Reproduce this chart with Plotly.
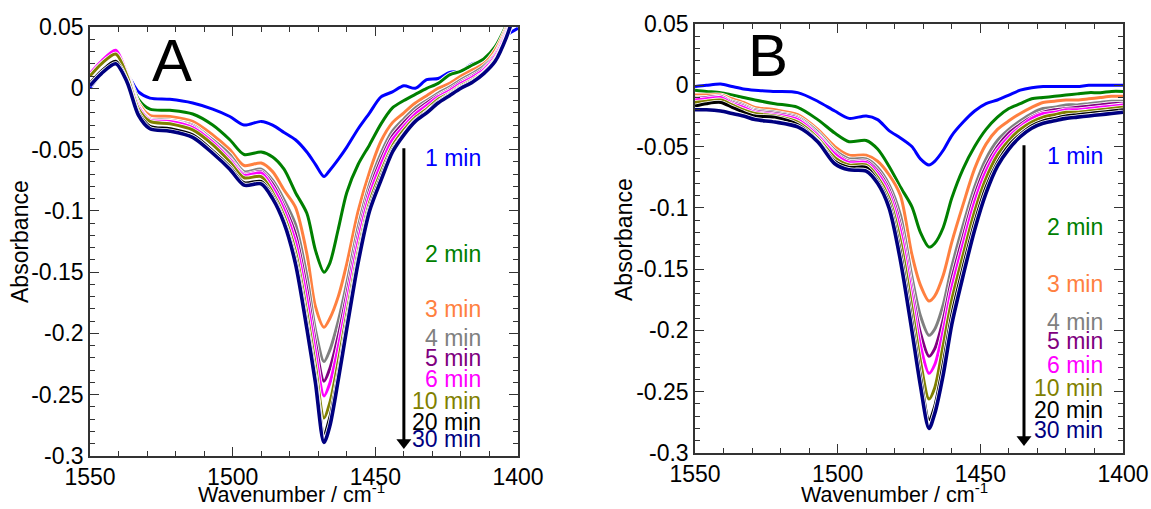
import plotly.graph_objects as go

# Wavenumbers (cm-1), shared by all spectra
W = [1550, 1546, 1541, 1537, 1533, 1529, 1522, 1514, 1507, 1501, 1496, 1490,
     1486, 1482, 1478, 1474, 1471, 1468, 1466, 1463, 1460, 1456, 1452, 1448,
     1444, 1440, 1436, 1432, 1428, 1424, 1420, 1416, 1412, 1408, 1404, 1400]

# Panel A spectra
A_1 = [0.000, 0.012, 0.022, 0.012, -0.003, -0.008, -0.009, -0.012, -0.017, -0.023, -0.030, -0.027,
       -0.030, -0.036, -0.042, -0.052, -0.062, -0.072, -0.067, -0.058, -0.048, -0.033, -0.020, -0.007,
       -0.003, 0.002, 0.000, 0.007, 0.008, 0.013, 0.014, 0.020, 0.022, 0.030, 0.043, 0.049]
A_2 = [0.010, 0.020, 0.030, 0.013, -0.009, -0.017, -0.018, -0.021, -0.030, -0.042, -0.054, -0.052,
       -0.056, -0.066, -0.085, -0.102, -0.132, -0.150, -0.143, -0.115, -0.085, -0.062, -0.046, -0.029,
       -0.016, -0.010, -0.005, 0.000, 0.004, 0.011, 0.014, 0.019, 0.024, 0.034, 0.052, 0.075]
A_3 = [0.012, 0.022, 0.031, 0.013, -0.012, -0.022, -0.023, -0.027, -0.038, -0.050, -0.063, -0.061,
       -0.068, -0.083, -0.097, -0.135, -0.178, -0.195, -0.188, -0.170, -0.143, -0.100, -0.068, -0.043,
       -0.028, -0.020, -0.012, -0.006, 0.000, 0.004, 0.010, 0.015, 0.020, 0.031, 0.050, 0.075]
A_4 = [0.011, 0.021, 0.030, 0.012, -0.014, -0.025, -0.026, -0.030, -0.042, -0.054, -0.068, -0.066,
       -0.075, -0.091, -0.111, -0.153, -0.197, -0.223, -0.214, -0.190, -0.159, -0.113, -0.078, -0.053,
       -0.035, -0.025, -0.016, -0.010, -0.004, 0.001, 0.007, 0.012, 0.018, 0.028, 0.048, 0.074]
A_5 = [0.011, 0.021, 0.030, 0.011, -0.015, -0.026, -0.027, -0.031, -0.044, -0.057, -0.070, -0.068,
       -0.078, -0.096, -0.119, -0.164, -0.207, -0.239, -0.229, -0.202, -0.168, -0.120, -0.083, -0.058,
       -0.039, -0.028, -0.019, -0.012, -0.006, -0.001, 0.005, 0.010, 0.016, 0.027, 0.046, 0.073]
A_6 = [0.012, 0.022, 0.031, 0.011, -0.015, -0.026, -0.027, -0.032, -0.044, -0.058, -0.071, -0.069,
       -0.081, -0.099, -0.125, -0.172, -0.215, -0.251, -0.241, -0.211, -0.175, -0.125, -0.087, -0.062,
       -0.042, -0.031, -0.021, -0.014, -0.007, -0.002, 0.004, 0.009, 0.015, 0.026, 0.045, 0.072]
A_10 = [0.010, 0.020, 0.028, 0.010, -0.017, -0.027, -0.029, -0.034, -0.046, -0.060, -0.073, -0.072,
        -0.085, -0.104, -0.133, -0.183, -0.226, -0.269, -0.257, -0.223, -0.184, -0.133, -0.093, -0.068,
        -0.047, -0.034, -0.024, -0.017, -0.009, -0.004, 0.002, 0.007, 0.013, 0.024, 0.043, 0.071]
A_20 = [0.004, 0.014, 0.022, 0.006, -0.020, -0.031, -0.033, -0.038, -0.051, -0.064, -0.077, -0.076,
        -0.088, -0.108, -0.139, -0.191, -0.235, -0.282, -0.269, -0.233, -0.191, -0.138, -0.097, -0.072,
        -0.050, -0.037, -0.026, -0.019, -0.011, -0.005, 0.001, 0.006, 0.012, 0.023, 0.042, 0.070]
A_30 = [0.002, 0.012, 0.020, 0.005, -0.022, -0.033, -0.035, -0.040, -0.053, -0.066, -0.079, -0.078,
        -0.090, -0.110, -0.143, -0.196, -0.240, -0.289, -0.276, -0.238, -0.196, -0.142, -0.100, -0.075,
        -0.052, -0.038, -0.027, -0.020, -0.012, -0.006, 0.000, 0.005, 0.012, 0.022, 0.042, 0.070]

# Panel B spectra
B_1 = [-0.001, 0.000, 0.001, -0.001, -0.003, -0.004, -0.005, -0.006, -0.013, -0.021, -0.027, -0.025,
       -0.028, -0.037, -0.043, -0.050, -0.060, -0.065, -0.062, -0.053, -0.041, -0.030, -0.021, -0.015,
       -0.012, -0.008, -0.004, -0.002, -0.001, -0.001, -0.001, -0.001, 0.000, 0.000, 0.000, 0.000]
B_2 = [-0.004, -0.005, -0.006, -0.008, -0.010, -0.012, -0.015, -0.018, -0.028, -0.039, -0.046, -0.045,
       -0.052, -0.066, -0.083, -0.099, -0.120, -0.132, -0.129, -0.116, -0.092, -0.068, -0.050, -0.036,
       -0.026, -0.019, -0.015, -0.011, -0.010, -0.009, -0.008, -0.007, -0.006, -0.006, -0.005, -0.005]
B_3 = [-0.008, -0.008, -0.008, -0.011, -0.014, -0.018, -0.020, -0.024, -0.036, -0.050, -0.057, -0.057,
       -0.062, -0.073, -0.090, -0.138, -0.163, -0.176, -0.172, -0.155, -0.128, -0.097, -0.068, -0.048,
       -0.036, -0.029, -0.023, -0.018, -0.014, -0.013, -0.012, -0.012, -0.011, -0.010, -0.009, -0.009]
B_4 = [-0.010, -0.010, -0.009, -0.013, -0.016, -0.020, -0.022, -0.026, -0.038, -0.053, -0.060, -0.060,
       -0.067, -0.081, -0.106, -0.156, -0.188, -0.204, -0.199, -0.179, -0.148, -0.114, -0.083, -0.060,
       -0.045, -0.036, -0.029, -0.023, -0.019, -0.018, -0.016, -0.016, -0.015, -0.014, -0.013, -0.013]
B_5 = [-0.011, -0.010, -0.009, -0.014, -0.017, -0.021, -0.023, -0.027, -0.040, -0.055, -0.062, -0.062,
       -0.070, -0.085, -0.114, -0.166, -0.202, -0.221, -0.215, -0.191, -0.158, -0.123, -0.090, -0.066,
       -0.050, -0.039, -0.032, -0.026, -0.022, -0.020, -0.019, -0.018, -0.017, -0.016, -0.015, -0.015]
B_6 = [-0.012, -0.011, -0.010, -0.015, -0.018, -0.022, -0.024, -0.028, -0.041, -0.056, -0.063, -0.063,
       -0.072, -0.088, -0.119, -0.172, -0.212, -0.235, -0.228, -0.200, -0.165, -0.129, -0.095, -0.070,
       -0.053, -0.042, -0.034, -0.027, -0.023, -0.022, -0.020, -0.020, -0.019, -0.018, -0.017, -0.016]
B_10 = [-0.014, -0.013, -0.012, -0.016, -0.020, -0.023, -0.025, -0.030, -0.043, -0.059, -0.065, -0.065,
        -0.075, -0.092, -0.127, -0.181, -0.225, -0.256, -0.247, -0.212, -0.175, -0.138, -0.103, -0.076,
        -0.057, -0.045, -0.036, -0.030, -0.026, -0.024, -0.022, -0.022, -0.021, -0.020, -0.019, -0.018]
B_20 = [-0.017, -0.015, -0.014, -0.018, -0.022, -0.025, -0.026, -0.032, -0.045, -0.062, -0.067, -0.067,
        -0.078, -0.096, -0.136, -0.192, -0.237, -0.273, -0.262, -0.227, -0.187, -0.148, -0.112, -0.083,
        -0.063, -0.049, -0.040, -0.033, -0.029, -0.027, -0.025, -0.024, -0.023, -0.022, -0.021, -0.020]
B_30 = [-0.020, -0.020, -0.021, -0.023, -0.025, -0.028, -0.030, -0.034, -0.046, -0.064, -0.069, -0.070,
        -0.080, -0.100, -0.143, -0.200, -0.245, -0.280, -0.268, -0.236, -0.195, -0.155, -0.118, -0.088,
        -0.066, -0.052, -0.042, -0.035, -0.031, -0.029, -0.027, -0.026, -0.025, -0.024, -0.023, -0.022]

LABELS = ["1 min", "2 min", "3 min", "4 min", "5 min", "6 min", "10 min", "20 min", "30 min"]
COLORS = ["#0000ff", "#008000", "#ff8040", "#808080", "#800080", "#ff00ff", "#808000", "#000000", "#000080"]
LABEL_Y_A = [-0.057, -0.135, -0.180, -0.204, -0.220, -0.237, -0.255, -0.272, -0.286]
LABEL_Y_B = [-0.058, -0.116, -0.162, -0.193, -0.209, -0.228, -0.247, -0.265, -0.281]

# Arrow (time direction) endpoints: [x, y_tail, y_head]
ARROW_A = [1440.0, -0.049, -0.289]
ARROW_B = [1434.7, -0.049, -0.289]

SERIES_A = [A_1, A_2, A_3, A_4, A_5, A_6, A_10, A_20, A_30]
SERIES_B = [B_1, B_2, B_3, B_4, B_5, B_6, B_10, B_20, B_30]

Y_TICKS = [0.05, 0, -0.05, -0.1, -0.15, -0.2, -0.25, -0.3]
Y_TICKTEXT = ["0.05", "0", "-0.05", "-0.1", "-0.15", "-0.2", "-0.25", "-0.3"]
X_TICKS = [1550, 1500, 1450, 1400]

FONT = "Liberation Sans, Arial, sans-serif"
AX = "#333333"
FW, FH = 1151, 509

fig = go.Figure()

def add_panel(series, xa, ya, arrow):
    for vals, col, lab in zip(series, COLORS, LABELS):
        w = 3.6 if col == "#000080" else 3
        fig.add_trace(go.Scatter(x=W, y=vals, mode="lines", xaxis=xa, yaxis=ya,
                                 line=dict(color="white", width=w + 1.6, shape="spline", smoothing=0.8),
                                 hoverinfo="skip", showlegend=False))
        fig.add_trace(go.Scatter(x=W, y=vals, mode="lines", xaxis=xa, yaxis=ya, name=lab,
                                 line=dict(color=col, width=w, shape="spline", smoothing=0.8),
                                 showlegend=False))
    fig.add_trace(go.Scatter(x=[arrow[0], arrow[0]], y=[arrow[1], arrow[2]], mode="lines",
                             xaxis=xa, yaxis=ya, line=dict(color="black", width=3),
                             hoverinfo="skip", showlegend=False))
    fig.add_trace(go.Scatter(x=[arrow[0]], y=[arrow[2]], mode="markers", xaxis=xa, yaxis=ya,
                             marker=dict(symbol="triangle-down", size=13, color="black"),
                             hoverinfo="skip", showlegend=False))

add_panel(SERIES_A, "x", "y", ARROW_A)
add_panel(SERIES_B, "x2", "y2", ARROW_B)

def xaxis(domain, anchor):
    return dict(domain=domain, anchor=anchor, range=[1550, 1400], autorange=False, automargin=False,
                tickmode="array", tickvals=X_TICKS, ticks="inside", ticklen=9, tickwidth=1.3,
                tickcolor=AX, showline=True, linecolor=AX, linewidth=1.5, mirror="allticks",
                showgrid=False, zeroline=False,
                tickfont=dict(family=FONT, size=23, color="black"),
                minor=dict(dtick=10, tick0=1400, ticks="inside", ticklen=5, tickwidth=1.2, tickcolor=AX,
                           showgrid=False))

def yaxis(domain, anchor):
    return dict(domain=domain, anchor=anchor, range=[-0.3, 0.05], autorange=False, automargin=False,
                tickmode="array", tickvals=Y_TICKS, ticktext=Y_TICKTEXT,
                ticks="inside", ticklen=9, tickwidth=1.3, tickcolor=AX,
                showline=True, linecolor=AX, linewidth=1.5, mirror="allticks",
                showgrid=False, zeroline=False,
                tickfont=dict(family=FONT, size=23, color="black"),
                minor=dict(dtick=0.01, tick0=0, ticks="inside", ticklen=5, tickwidth=1.2, tickcolor=AX,
                           showgrid=False))

fig.update_layout(
    width=FW, height=FH,
    margin=dict(l=0, r=0, t=0, b=0),
    paper_bgcolor="white", plot_bgcolor="white",
    xaxis=xaxis([90 / FW, 518 / FW], "y"),
    yaxis=yaxis([1 - 456 / FH, 1 - 27 / FH], "x"),
    xaxis2=xaxis([695 / FW, 1123 / FW], "y2"),
    yaxis2=yaxis([1 - 453 / FH, 1 - 24 / FH], "x2"),
)

ann = []
# Axis titles
for cx in (291, 894):
    ann.append(dict(x=cx / FW, y=1 - 493 / FH, xref="paper", yref="paper",
                    text="Wavenumber / cm<sup>-1</sup>", showarrow=False,
                    font=dict(family=FONT, size=21.5, color="black"), xanchor="center", yanchor="middle"))
for cx, cy in ((20, 242), (624, 240)):
    ann.append(dict(x=cx / FW, y=1 - cy / FH, xref="paper", yref="paper", text="Absorbance",
                    textangle=-90, showarrow=False,
                    font=dict(family=FONT, size=23, color="black"), xanchor="center", yanchor="middle"))
# Panel letters
ann.append(dict(x=1521.3, y=0.023, xref="x", yref="y", text="A", showarrow=False,
                font=dict(family=FONT, size=60, color="black"), xanchor="center", yanchor="middle"))
ann.append(dict(x=1524.4, y=0.024, xref="x2", yref="y2", text="B", showarrow=False,
                font=dict(family=FONT, size=60, color="black"), xanchor="center", yanchor="middle"))
# Time labels
for lab, col, ya_, yb_ in zip(LABELS, COLORS, LABEL_Y_A, LABEL_Y_B):
    ann.append(dict(x=1412.3, y=ya_, xref="x", yref="y", text=lab, showarrow=False,
                    font=dict(family=FONT, size=23, color=col), xanchor="right", yanchor="middle"))
    ann.append(dict(x=1406.3, y=yb_, xref="x2", yref="y2", text=lab, showarrow=False,
                    font=dict(family=FONT, size=23, color=col), xanchor="right", yanchor="middle"))
fig.update_layout(annotations=ann)

fig.write_html("out.html")
